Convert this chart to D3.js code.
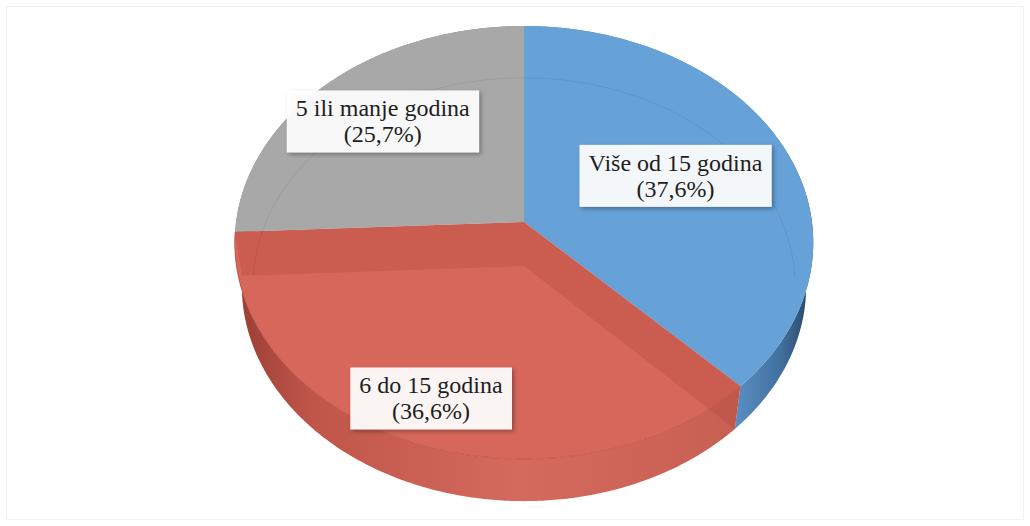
<!DOCTYPE html>
<html>
<head>
<meta charset="utf-8">
<script src="https://cdn.jsdelivr.net/npm/d3@7"></script>
<style>
  html, body { margin: 0; padding: 0; background: #fff; }
  svg { display: block; }
</style>
</head>
<body>
<div id="chart"></div>
<script>
// Podaci
const categories = ['Više od 15 godina', '6 do 15 godina', '5 ili manje godina'];
const values = [37.6, 36.6, 25.7];
const colors = ['#66a1d8', '#d7675a', '#a8a8a8'];

const width = 1030;
const height = 526;

// Perspektiva (jedinicni krug, visina pite h)
const cam = { cx: 524, cy: 222, F: 2030, D: 7.05, s: 0.745 };
cam.c = Math.sqrt(1 - cam.s * cam.s);
const depthH = 0.235;
const labelR = [0.58, 0.82, 0.71];

function project(theta, r, y) {
  const x = r * Math.sin(theta);
  const z = r * Math.cos(theta);
  const depth = cam.D - y * cam.s + z * cam.c;
  const up = y * cam.c + z * cam.s;
  return [cam.cx + cam.F * x / depth, cam.cy - cam.F * up / depth];
}

function arcPoints(a0, a1, y, r = 1) {
  const n = Math.max(2, Math.ceil(Math.abs(a1 - a0) / 0.01));
  return d3.range(n + 1).map(i => project(a0 + (a1 - a0) * i / n, r, y));
}

const line = d3.line();

const svg = d3.select('#chart')
  .append('svg')
  .attr('width', width)
  .attr('height', height);

const defs = svg.append('defs');

// Gradijenti za bocne strane
const gradRed = defs.append('linearGradient')
  .attr('id', 'side-red').attr('gradientUnits', 'userSpaceOnUse')
  .attr('x1', 235).attr('x2', 745).attr('y1', 0).attr('y2', 0);
gradRed.append('stop').attr('offset', 0).attr('stop-color', '#9a3d33');
gradRed.append('stop').attr('offset', 0.15).attr('stop-color', '#c0554a');
gradRed.append('stop').attr('offset', 0.55).attr('stop-color', '#d46a5d');
gradRed.append('stop').attr('offset', 1).attr('stop-color', '#c75f52');

const gradBlue = defs.append('linearGradient')
  .attr('id', 'side-blue').attr('gradientUnits', 'userSpaceOnUse')
  .attr('x1', 730).attr('x2', 815).attr('y1', 0).attr('y2', 0);
gradBlue.append('stop').attr('offset', 0).attr('stop-color', '#5d92c8');
gradBlue.append('stop').attr('offset', 0.6).attr('stop-color', '#41709f');
gradBlue.append('stop').attr('offset', 1).attr('stop-color', '#263f5c');

const sideFill = ['url(#side-blue)', 'url(#side-red)', '#8a8a8a'];

const shadow = defs.append('filter').attr('id', 'shadow')
  .attr('x', '-10%').attr('y', '-10%').attr('width', '130%').attr('height', '140%');
shadow.append('feDropShadow')
  .attr('dx', 2).attr('dy', 2).attr('stdDeviation', 2)
  .attr('flood-color', '#000').attr('flood-opacity', 0.35);

// Okvir
svg.append('rect')
  .attr('x', 6.5).attr('y', 6.5)
  .attr('width', width - 13).attr('height', height - 13)
  .attr('fill', 'none').attr('stroke', '#f2f2f2');

const pie = d3.pie().sort(null).startAngle(0).endAngle(2 * Math.PI);
const slices = pie(values);

// Bocne strane
svg.append('g').selectAll('path')
  .data(slices)
  .enter().append('path')
  .attr('d', d => {
    const top = arcPoints(d.startAngle, d.endAngle, 0);
    const bot = arcPoints(d.endAngle, d.startAngle, -depthH);
    return line(top.concat(bot)) + 'Z';
  })
  .attr('fill', (d, i) => sideFill[i]);

// Gornje povrsine
const center = project(0, 0, 0);
svg.append('g').selectAll('path')
  .data(slices)
  .enter().append('path')
  .attr('d', d => line([center].concat(arcPoints(d.startAngle, d.endAngle, 0))) + 'Z')
  .attr('fill', (d, i) => colors[i]);

// Unutrasnji zidovi crvenog isjecka (vidljivi kroz providnost)
const red = slices[1];
const wallG = svg.append('g');
[red.startAngle, red.endAngle].forEach(a => {
  const pts = [
    project(a, 0, 0), project(a, 1, 0),
    project(a, 1, -depthH), project(a, 0, -depthH)
  ];
  wallG.append('path')
    .attr('d', line(pts) + 'Z')
    .attr('fill', '#b2473c')
    .attr('fill-opacity', 0.32);
});

// Donja ivica (prozirno) iza
svg.append('path')
  .attr('d', line(arcPoints(-Math.PI / 2 - 0.05, Math.PI / 2 + 0.05, -depthH, 0.96)))
  .attr('fill', 'none')
  .attr('stroke', '#000')
  .attr('stroke-opacity', 0.07);

// Ivica gornje povrsine sprijeda
svg.append('path')
  .attr('d', line(arcPoints(red.startAngle, red.endAngle, 0)))
  .attr('fill', 'none')
  .attr('stroke', '#b3483d')
  .attr('stroke-opacity', 0.6);

// Oznake
const fmt = v => '(' + v.toFixed(1).replace('.', ',') + '%)';
const labels = svg.append('g').selectAll('g')
  .data(slices)
  .enter().append('g')
  .attr('transform', (d, i) => {
    const mid = (d.startAngle + d.endAngle) / 2;
    const p = project(mid, labelR[i], 0);
    return `translate(${p[0]},${p[1]})`;
  });

labels.each(function(d, i) {
  const g = d3.select(this);
  const rect = g.append('rect')
    .attr('fill', '#fff')
    .attr('fill-opacity', 0.92)
    .attr('filter', 'url(#shadow)');
  const text = g.append('text')
    .attr('text-anchor', 'middle')
    .style('font-family', "'Liberation Serif', 'Times New Roman', serif")
    .style('font-size', '24px')
    .attr('fill', '#1e1e1e');
  text.append('tspan').attr('x', 0).attr('y', -5).text(categories[i]);
  text.append('tspan').attr('x', 0).attr('y', 21).text(fmt(d.data));
  const bb = text.node().getBBox();
  rect.attr('x', bb.x - 9).attr('y', -31)
    .attr('width', bb.width + 18).attr('height', 62);
});
</script>
</body>
</html>
